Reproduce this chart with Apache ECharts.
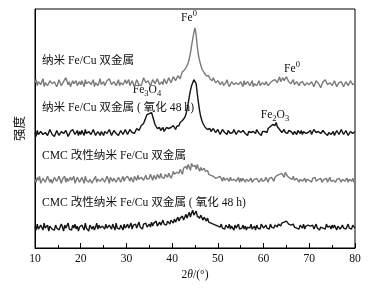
<!DOCTYPE html>
<html><head><meta charset="utf-8">
<script src="https://cdn.jsdelivr.net/npm/echarts@6/dist/echarts.min.js"></script>
<style>html,body{margin:0;padding:0;background:#fff}#c{width:384px;height:289px}</style>
</head><body><div id="c"></div>
<script>
// 2θ from 10° to 80° in 0.25° steps
const xStart = 10, xStep = 0.25;
const xTicks = [10, 20, 30, 40, 50, 60, 70, 80];
const seriesNames = ['纳米 Fe/Cu 双金属', '纳米 Fe/Cu 双金属 ( 氧化 48 h)', 'CMC 改性纳米 Fe/Cu 双金属', 'CMC 改性纳米 Fe/Cu 双金属 ( 氧化 48 h)'];
// intensities (offset stacked, arbitrary units)
const nanoFeCu = [
166,169,163,167,168,164,165,170,162,166,167,163,164,168,169,165,163,167,166,162,
165,169,168,163,162,167,166,171,170,164,167,162,163,168,165,166,168,163,164,167,
164,168,166,162,169,165,163,167,167,164,165,169,162,166,168,163,166,170,164,165,
167,163,163,168,166,170,169,164,164,167,167,163,165,169,163,166,168,164,166,169,
165,167,169,163,164,168,166,162,163,169,168,164,166,163,164,171,170,166,165,168,
167,163,164,169,168,165,165,170,169,164,166,167,164,170,168,165,167,171,170,166,
168,172,171,168,169,173,172,170,174,177,176,179,180,183,186,190,196,203,210,216,
221,
214,202,194,188,184,180,178,176,175,173,172,173,170,168,168,171,170,166,166,168,
167,164,166,167,163,165,166,169,165,162,163,167,167,164,163,166,166,164,163,167,
165,162,168,164,163,167,166,163,164,168,162,165,167,163,165,168,163,164,166,167,
164,167,167,163,163,166,165,168,166,169,168,166,169,172,167,169,171,168,170,172,
170,167,168,165,166,169,164,163,167,169,163,166,165,167,166,163,162,166,167,164,
164,167,166,162,163,168,167,165,164,161,162,167,166,169,168,164,163,166,165,163,
164,168,167,162,163,166,165,167,166,162,162,167,166,163,164,168,167,164,163,165];
const nanoFeCuOx = [
116,112,118,114,113,117,119,114,112,116,117,113,115,119,118,114,116,112,114,118,
117,113,113,117,119,115,114,118,116,112,113,117,116,119,117,114,115,118,113,117,
114,118,116,113,119,115,113,117,117,114,115,119,118,113,114,117,116,113,117,119,
113,117,118,115,115,119,117,113,114,118,119,115,116,113,115,118,118,114,116,119,
117,114,115,119,119,116,118,115,117,120,120,118,119,123,122,125,128,131,134,136,
135,137,136,132,128,124,122,120,119,121,118,120,121,117,118,121,119,120,118,121,
120,123,121,119,122,124,123,126,125,128,129,131,134,139,145,152,158,163,166,169,
171,
165,155,146,138,132,128,125,123,121,122,119,121,120,117,118,120,119,116,116,119,
118,114,115,119,120,116,117,114,118,119,115,117,116,119,118,114,115,118,117,116,
114,118,119,115,116,113,117,119,116,114,117,118,115,119,118,115,116,113,117,118,
117,115,116,120,119,122,121,124,125,123,126,122,121,119,118,116,117,119,116,118,
115,118,119,117,116,114,117,119,114,118,116,115,118,114,117,119,115,113,116,118,
118,114,115,119,117,116,114,117,119,115,116,118,119,115,117,113,116,118,114,116,
117,113,115,118,118,114,116,119,117,114,115,118,116,113,114,117,118,115,116,117];
const cmcFeCu = [
69,66,71,68,72,65,67,70,70,66,68,72,71,66,69,65,67,71,70,67,
68,72,71,65,69,68,72,66,70,67,66,71,68,69,72,65,68,71,70,66,
67,71,69,65,72,68,70,66,69,71,65,68,70,72,66,69,71,67,68,70,
70,66,68,72,69,65,71,69,67,70,72,66,68,71,70,66,69,72,67,70,
68,72,70,67,71,69,66,72,70,68,73,69,67,71,72,68,70,73,69,71,
70,74,72,68,73,71,69,74,72,70,75,71,73,70,74,72,71,75,73,70,
73,77,74,72,76,78,75,79,77,74,80,78,82,79,84,81,78,85,82,80,
83,
79,84,80,77,81,78,76,80,77,75,78,74,76,73,75,72,74,70,72,71,
69,72,70,67,71,68,66,70,69,67,71,68,66,69,70,67,68,71,66,70,
67,70,68,66,69,71,67,68,70,66,68,69,67,70,71,66,68,70,67,69,
68,71,69,66,70,68,71,69,67,71,70,73,71,74,72,75,73,71,76,74,
72,74,70,71,69,72,68,67,70,68,66,69,71,67,68,70,66,69,67,68,
69,66,70,68,71,67,65,69,68,70,66,68,69,67,70,66,68,71,67,69,
68,70,66,69,67,70,68,66,69,71,67,68,70,66,69,68,67,70,66,68];
const cmcFeCuOx = [
21,18,24,19,17,23,22,18,25,20,19,23,17,22,24,19,21,18,23,20,
22,18,19,24,21,17,23,20,22,25,19,21,18,23,20,24,19,22,17,21,
19,23,22,18,25,20,21,17,23,24,19,22,18,21,25,19,23,20,18,22,
22,19,24,20,18,23,21,19,24,22,18,25,20,22,19,23,21,18,24,20,
21,24,20,22,25,19,23,21,24,20,22,26,21,23,19,24,22,25,21,23,
24,21,26,22,25,23,27,22,24,26,23,25,28,24,26,23,27,25,24,28,
27,25,29,26,28,31,27,30,29,32,28,31,34,30,33,36,31,35,38,33,
35,
37,32,34,30,33,31,28,31,29,27,30,26,28,25,27,24,26,23,25,22,
23,21,24,20,22,19,23,21,20,24,19,22,21,18,23,20,22,24,19,21,
20,23,19,22,18,21,23,20,24,19,21,22,18,23,20,21,19,24,22,20,
21,23,20,22,19,24,21,22,20,23,22,21,24,23,22,25,24,26,25,27,
26,24,25,23,22,24,21,23,20,22,19,23,21,20,24,19,22,20,23,21,
22,20,23,19,21,24,20,22,18,21,23,20,22,19,24,21,20,22,19,23,
20,23,21,18,22,24,19,21,23,20,22,19,21,24,20,22,19,23,21,20];
const allValues = [nanoFeCu, nanoFeCuOx, cmcFeCu, cmcFeCuOx];
const lineColors = ['#7a7a7a', '#141414', '#7a7a7a', '#141414'];

const FONT = '"Liberation Serif","Noto Sans CJK SC",serif';
const FS = 11.6;
const pairs = v => v.map((y, i) => [xStart + i * xStep, y]);
const rich = {
  b: {fontSize: FS, fontFamily: FONT, color: '#111', lineHeight: 16},
  sub: {fontSize: 8.5, fontFamily: FONT, color: '#111', verticalAlign: 'bottom', lineHeight: 16, padding: [5, 0, 0, 0]},
  sup: {fontSize: 8.5, fontFamily: FONT, color: '#111', verticalAlign: 'top', lineHeight: 16, padding: [0, 0, 6, 0]}
};
function label(x, y, text, align) {
  return {type: 'text', x: x, y: y, z: -10, zlevel: 0,
    style: {text: text, rich: rich, font: FS + 'px ' + FONT, fill: '#111', align: align || 'left', verticalAlign: 'middle'}};
}
const chart = echarts.init(document.getElementById('c'));
chart.setOption({
  animation: false,
  backgroundColor: '#fff',
  grid: {left: 35, right: 29, top: 9, bottom: 41, show: true, borderColor: '#000', borderWidth: 1, backgroundColor: 'transparent'},
  xAxis: {
    type: 'value', min: xTicks[0], max: xTicks[xTicks.length - 1], interval: 10,
    name: '2{i|θ}/(°)', nameLocation: 'middle', nameGap: 18,
    nameTextStyle: {fontFamily: FONT, fontSize: FS, color: '#111', rich: {i: {fontFamily: FONT, fontSize: FS, fontStyle: 'italic', color: '#111'}}},
    axisLine: {lineStyle: {color: '#000', width: 1}},
    axisTick: {inside: true, length: 5, lineStyle: {color: '#000'}},
    minorTick: {show: true, splitNumber: 2, length: 3, lineStyle: {color: '#000'}},
    splitLine: {show: false},
    axisLabel: {fontFamily: FONT, fontSize: FS, color: '#111', margin: 5}
  },
  yAxis: {
    type: 'value', min: 0, max: 240,
    name: '强度', nameLocation: 'middle', nameGap: 8,
    nameTextStyle: {fontFamily: FONT, fontSize: 12.5, color: '#111'},
    axisLine: {show: true, lineStyle: {color: '#000'}},
    axisTick: {show: false}, axisLabel: {show: false}, splitLine: {show: false}
  },
  series: allValues.map((v, k) => ({
    name: seriesNames[k], type: 'line', data: pairs(v), showSymbol: false, z: 5,
    lineStyle: {color: lineColors[k], width: 1.4}
  })),
  graphic: [
    label(42, 61, '{b|' + seriesNames[0] + '}'),
    label(42, 108, '{b|' + seriesNames[1] + '}'),
    label(42, 156, '{b|' + seriesNames[2] + '}'),
    label(42, 203, '{b|' + seriesNames[3] + '}'),
    label(189, 18, '{b|Fe}{sup|0}', 'center'),
    label(292, 69, '{b|Fe}{sup|0}', 'center'),
    label(147, 90, '{b|Fe}{sub|3}{b|O}{sub|4}', 'center'),
    label(275, 115, '{b|Fe}{sub|2}{b|O}{sub|3}', 'center')
  ]
});
</script></body></html>
